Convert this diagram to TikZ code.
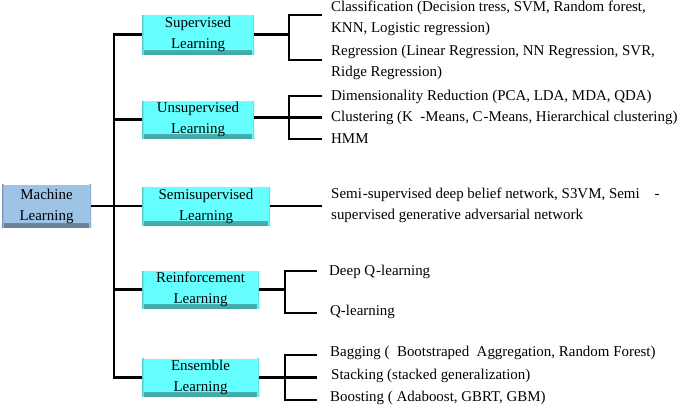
\documentclass[tikz,border=0pt]{standalone}
\usepackage{fontspec}
\setmainfont{Liberation Serif}
\usetikzlibrary{calc}
\definecolor{boxcyan}{RGB}{102,255,255}
\definecolor{boxblue}{RGB}{157,195,230}
\tikzset{
  catbox/.style={draw=none, fill=boxcyan, align=center, inner sep=0pt,
    font=\fontsize{15}{21}\selectfont,
    path picture={
      \shade[top color=boxcyan, bottom color=boxcyan!65!black]
        ([yshift=4pt]path picture bounding box.south west) rectangle (path picture bounding box.south east);
      \shade[left color=boxcyan!80!black, right color=boxcyan]
        (path picture bounding box.south west) rectangle ([xshift=2pt]path picture bounding box.north west);
      \shade[right color=boxcyan!80!black, left color=boxcyan]
        ([xshift=-2pt]path picture bounding box.south east) rectangle (path picture bounding box.north east);
    }},
  rootbox/.style={draw=none, fill=boxblue, align=center, inner sep=0pt,
    font=\fontsize{15}{21}\selectfont,
    path picture={
      \shade[top color=boxblue, bottom color=boxblue!65!black]
        ([yshift=4pt]path picture bounding box.south west) rectangle (path picture bounding box.south east);
      \shade[left color=boxblue!80!black, right color=boxblue]
        (path picture bounding box.south west) rectangle ([xshift=2pt]path picture bounding box.north west);
      \shade[right color=boxblue!80!black, left color=boxblue]
        ([xshift=-2pt]path picture bounding box.south east) rectangle (path picture bounding box.north east);
    }},
  leaf/.style={anchor=west, align=left, inner sep=0pt, font=\fontsize{15}{21}\selectfont},
  conn/.style={line width=2.8bp, line cap=butt, line join=miter}
}
\begin{document}
\begin{tikzpicture}[x=1bp,y=-1bp]
\useasboundingbox (0,0) rectangle (685,409);
% boxes
\node[rootbox, minimum width=89bp, minimum height=43bp] (ml) at (46.5,206) {Machine\\Learning};
\node[catbox, minimum width=112bp, minimum height=39bp] (sup) at (198,34.5) {Supervised\\Learning};
\node[catbox, minimum width=112bp, minimum height=37bp] (uns) at (198,119.5) {Unsupervised\\Learning};
\node[catbox, minimum width=128bp, minimum height=38bp] (semi) at (206,206) {Semisupervised\\Learning};
\node[catbox, minimum width=117bp, minimum height=37bp] (rein) at (200.5,289.5) {Reinforcement\\Learning};
\node[catbox, minimum width=117bp, minimum height=38bp] (ens) at (200.5,377.5) {Ensemble\\Learning};
% leaves
\node[leaf] (cls) at (331,18) {Classification (Decision tress, SVM, Random forest,\\KNN, Logistic regression)};
\node[leaf] (reg) at (331,62) {Regression (Linear Regression, NN Regression, SVR,\\Ridge Regression)};
\node[leaf] (dim) at (331,97) {Dimensionality Reduction (PCA, LDA, MDA, QDA)};
\node[leaf] (clu) at (331,117.5) {Clustering (K\ \ -Means, C\kern1pt-Means, Hierarchical clustering)};
\node[leaf] (hmm) at (331,139) {HMM};
\node[leaf] (sst) at (331,205) {Semi\kern1pt-supervised deep belief network, S3VM, Semi\quad -\\supervised generative adversarial network};
\node[leaf] (dq) at (329,272) {Deep Q\kern1pt-learning};
\node[leaf] (ql) at (330,312) {Q-learning};
\node[leaf] (bag) at (330,353) {Bagging (\ \ Bootstraped\ \ Aggregation, Random Forest)};
\node[leaf] (stk) at (331,376) {Stacking (stacked generalization)};
\node[leaf] (bst) at (330,398) {Boosting (\ Adaboost, GBRT, GBM)};
% trunk
\coordinate (tx) at (114,0);
\draw[conn] (sup.west) -| (tx |- ens.west) -- (ens.west);
\draw[conn] (uns.west) -- (tx |- uns.west);
\draw[conn] (rein.west) -- (tx |- rein.west);
\draw[conn] (ml.east) -- (semi.west);
% supervised bracket
\coordinate (js) at (289,0);
\coordinate (a1) at (322,15);
\coordinate (a2) at (322,60);
\draw[conn] (a1) -| (js |- a2) -- (a2);
\draw[conn] (sup.east) -- (js |- sup.east);
% unsupervised bracket
\coordinate (b1) at (322,96);
\coordinate (b2) at (322,117.5);
\coordinate (b3) at (322,139);
\draw[conn] (b1) -| (js |- b3) -- (b3);
\draw[conn] (b2 -| uns.east) -- (b2);
% semi
\coordinate (s1) at (322,206);
\draw[conn] (semi.east) -- (s1 |- semi.east);
% reinforcement bracket
\coordinate (jr) at (285,0);
\coordinate (r1) at (317,271);
\coordinate (r2) at (317,313);
\draw[conn] (r1) -| (jr |- r2) -- (r2);
\draw[conn] (rein.east) -- (jr |- rein.east);
% ensemble bracket
\coordinate (e1) at (317,355);
\coordinate (e2) at (317,377.5);
\coordinate (e3) at (317,400);
\draw[conn] (e1) -| (jr |- e3) -- (e3);
\draw[conn] (ens.east) -- (e2);
\end{tikzpicture}
\end{document}
